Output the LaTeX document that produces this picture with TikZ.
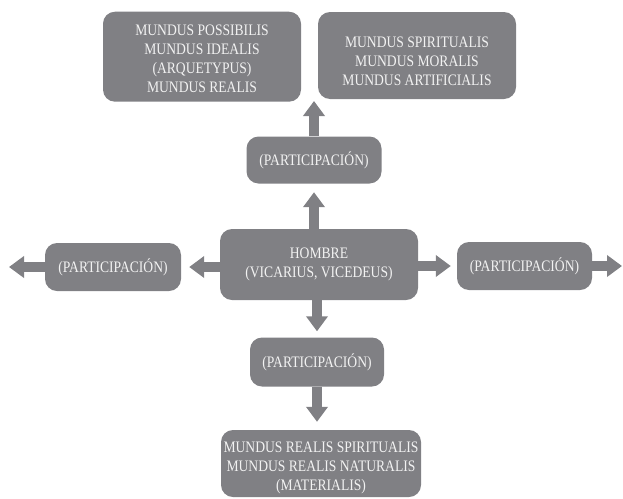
\documentclass[tikz,border=0pt]{standalone}
\usepackage{fontspec}
\setmainfont{Liberation Serif}[FakeStretch=0.85]
\usetikzlibrary{arrows.meta}
\definecolor{cajagris}{RGB}{128,128,132}
\definecolor{letraclara}{RGB}{242,242,242}
\begin{document}
\begin{tikzpicture}[x=1pt,y=-1pt,
    caja/.style={fill=cajagris,rounded corners=12pt,text=letraclara,align=center,inner sep=0pt,
        font=\fontsize{16}{19}\selectfont},
    flecha/.style={cajagris,line width=9.5pt,-{Triangle[width=21pt,length=15pt]}}]
    \useasboundingbox (0,0) rectangle (623,498);

    \node[caja,minimum width=198pt,minimum height=90pt,text height=72pt,text depth=0pt] (mundosup) at (202,56.7)
        {MUNDUS POSSIBILIS\\MUNDUS IDEALIS\\(ARQUETYPUS)\\MUNDUS REALIS};
    \node[caja,minimum width=198pt,minimum height=87pt,text height=59pt,text depth=0pt] (mundoesp) at (417,55.5)
        {MUNDUS SPIRITUALIS\\MUNDUS MORALIS\\MUNDUS ARTIFICIALIS};
    \node[caja,minimum width=135pt,minimum height=47pt] (partarriba) at (314,160) {(PARTICIPACIÓN)};
    \node[caja,minimum width=198pt,minimum height=71pt] (hombre) at (319,264.5)
        {HOMBRE\\(VICARIUS, VICEDEUS)};
    \node[caja,minimum width=136pt,minimum height=48pt] (partizq) at (113,267) {(PARTICIPACIÓN)};
    \node[caja,minimum width=135pt,minimum height=48pt] (partder) at (524.5,266) {(PARTICIPACIÓN)};
    \node[caja,minimum width=134pt,minimum height=49pt] (partabajo) at (317,362) {(PARTICIPACIÓN)};
    \node[caja,minimum width=200pt,minimum height=67pt,text height=54pt,text depth=0pt] (mundoinf) at (321,463.5)
        {MUNDUS REALIS SPIRITUALIS\\MUNDUS REALIS NATURALIS\\(MATERIALIS)};

    \coordinate (extarriba) at (314,101);
    \coordinate (extizq) at (9,267);
    \coordinate (extder) at (622,266);

    \draw[flecha,shorten >=8.5pt] (hombre.north -| partarriba) -- (partarriba.south);
    \draw[flecha] (partarriba.north) -- (extarriba);
    \draw[flecha,shorten >=8pt] (hombre.west |- partizq) -- (partizq.east);
    \draw[flecha] (partizq.west) -- (extizq);
    \draw[flecha,shorten >=6pt] (hombre.east |- partder) -- (partder.west);
    \draw[flecha] (partder.east) -- (extder);
    \draw[flecha,shorten >=6pt] (hombre.south -| partabajo) -- (partabajo.north);
    \draw[flecha,shorten >=8pt] (partabajo.south) -- (partabajo.south |- mundoinf.north);

\end{tikzpicture}
\end{document}
